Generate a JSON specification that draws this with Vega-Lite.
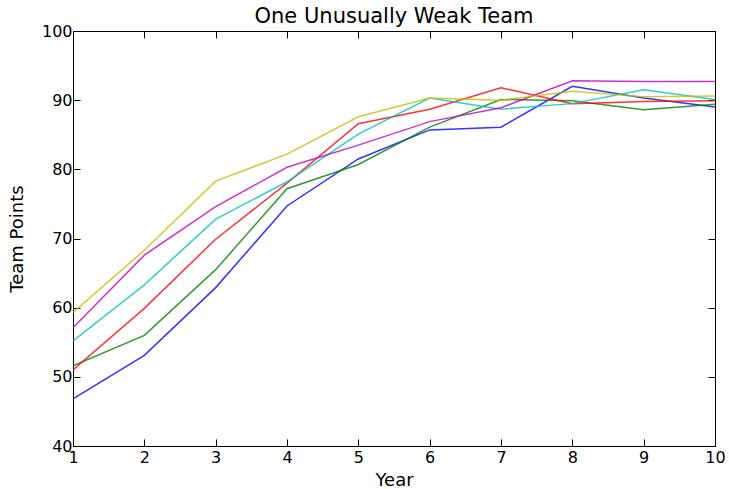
{
  "$schema": "https://vega.github.io/schema/vega-lite/v6.json",
  "width": 642,
  "height": 415,
  "autosize": {"type": "none"},
  "padding": {"left": 73, "top": 31, "right": 14, "bottom": 43},
  "background": "white",
  "title": {"text": "One Unusually Weak Team", "fontSize": 21, "font": "DejaVu Sans", "fontWeight": "normal", "color": "black", "offset": -4},
  "config": {
    "view": {"stroke": "black", "strokeWidth": 1},
    "axis": {"grid": false, "labelFont": "DejaVu Sans", "titleFont": "DejaVu Sans", "labelFontSize": 16, "titleFontSize": 18, "titleFontWeight": "normal", "labelColor": "black", "titleColor": "black", "domainColor": "black", "tickColor": "black", "tickSize": -7, "tickWidth": 1, "labelFlush": false}
  },
  "data": {"values": [
    {"team": "A", "year": 1, "points": 46.8}, {"team": "A", "year": 2, "points": 53.1}, {"team": "A", "year": 3, "points": 62.9}, {"team": "A", "year": 4, "points": 74.7}, {"team": "A", "year": 5, "points": 81.5}, {"team": "A", "year": 6, "points": 85.7}, {"team": "A", "year": 7, "points": 86.1}, {"team": "A", "year": 8, "points": 92.0}, {"team": "A", "year": 9, "points": 90.3}, {"team": "A", "year": 10, "points": 89.0},
    {"team": "B", "year": 1, "points": 51.6}, {"team": "B", "year": 2, "points": 56.0}, {"team": "B", "year": 3, "points": 65.5}, {"team": "B", "year": 4, "points": 77.2}, {"team": "B", "year": 5, "points": 80.7}, {"team": "B", "year": 6, "points": 86.1}, {"team": "B", "year": 7, "points": 90.1}, {"team": "B", "year": 8, "points": 89.9}, {"team": "B", "year": 9, "points": 88.6}, {"team": "B", "year": 10, "points": 89.4},
    {"team": "C", "year": 1, "points": 51.0}, {"team": "C", "year": 2, "points": 59.9}, {"team": "C", "year": 3, "points": 69.9}, {"team": "C", "year": 4, "points": 78.0}, {"team": "C", "year": 5, "points": 86.6}, {"team": "C", "year": 6, "points": 88.7}, {"team": "C", "year": 7, "points": 91.8}, {"team": "C", "year": 8, "points": 89.5}, {"team": "C", "year": 9, "points": 89.8}, {"team": "C", "year": 10, "points": 89.9},
    {"team": "D", "year": 1, "points": 55.2}, {"team": "D", "year": 2, "points": 63.3}, {"team": "D", "year": 3, "points": 72.8}, {"team": "D", "year": 4, "points": 78.2}, {"team": "D", "year": 5, "points": 85.1}, {"team": "D", "year": 6, "points": 90.3}, {"team": "D", "year": 7, "points": 88.7}, {"team": "D", "year": 8, "points": 89.5}, {"team": "D", "year": 9, "points": 91.5}, {"team": "D", "year": 10, "points": 90.1},
    {"team": "E", "year": 1, "points": 57.1}, {"team": "E", "year": 2, "points": 67.6}, {"team": "E", "year": 3, "points": 74.6}, {"team": "E", "year": 4, "points": 80.3}, {"team": "E", "year": 5, "points": 83.5}, {"team": "E", "year": 6, "points": 86.9}, {"team": "E", "year": 7, "points": 88.9}, {"team": "E", "year": 8, "points": 92.8}, {"team": "E", "year": 9, "points": 92.7}, {"team": "E", "year": 10, "points": 92.7},
    {"team": "F", "year": 1, "points": 59.3}, {"team": "F", "year": 2, "points": 68.3}, {"team": "F", "year": 3, "points": 78.3}, {"team": "F", "year": 4, "points": 82.2}, {"team": "F", "year": 5, "points": 87.6}, {"team": "F", "year": 6, "points": 90.3}, {"team": "F", "year": 7, "points": 90.0}, {"team": "F", "year": 8, "points": 91.3}, {"team": "F", "year": 9, "points": 90.5}, {"team": "F", "year": 10, "points": 90.6}
  ]},
  "layer": [
    {
      "mark": {"type": "line", "strokeWidth": 1.5, "opacity": 0.8, "clip": true},
      "encoding": {
        "x": {"field": "year", "type": "quantitative", "scale": {"domain": [1, 10], "nice": false, "zero": false}, "axis": {"title": "Year", "values": [1,2,3,4,5,6,7,8,9,10], "format": "d", "labelPadding": 10, "titlePadding": 6}},
        "y": {"field": "points", "type": "quantitative", "scale": {"domain": [40, 100], "nice": false, "zero": false}, "axis": {"title": "Team Points", "values": [40,50,60,70,80,90,100], "format": "d", "labelPadding": 8, "titlePadding": 15}},
        "color": {"field": "team", "type": "nominal", "scale": {"domain": ["A","B","C","D","E","F"], "range": ["#0000ff","#008000","#ff0000","#00bfbf","#bf00bf","#bfbf00"]}, "legend": null}
      }
    },
    {
      "mark": {"type": "line", "opacity": 0},
      "encoding": {
        "x": {"field": "year", "type": "quantitative", "scale": {"domain": [1, 10], "nice": false, "zero": false}, "axis": {"orient": "top", "title": null, "labels": false, "values": [1,2,3,4,5,6,7,8,9,10]}},
        "y": {"field": "points", "type": "quantitative", "scale": {"domain": [40, 100], "nice": false, "zero": false}, "axis": {"orient": "right", "title": null, "labels": false, "values": [40,50,60,70,80,90,100]}},
        "detail": {"field": "team"}
      }
    }
  ],
  "resolve": {"axis": {"x": "independent", "y": "independent"}}
}
